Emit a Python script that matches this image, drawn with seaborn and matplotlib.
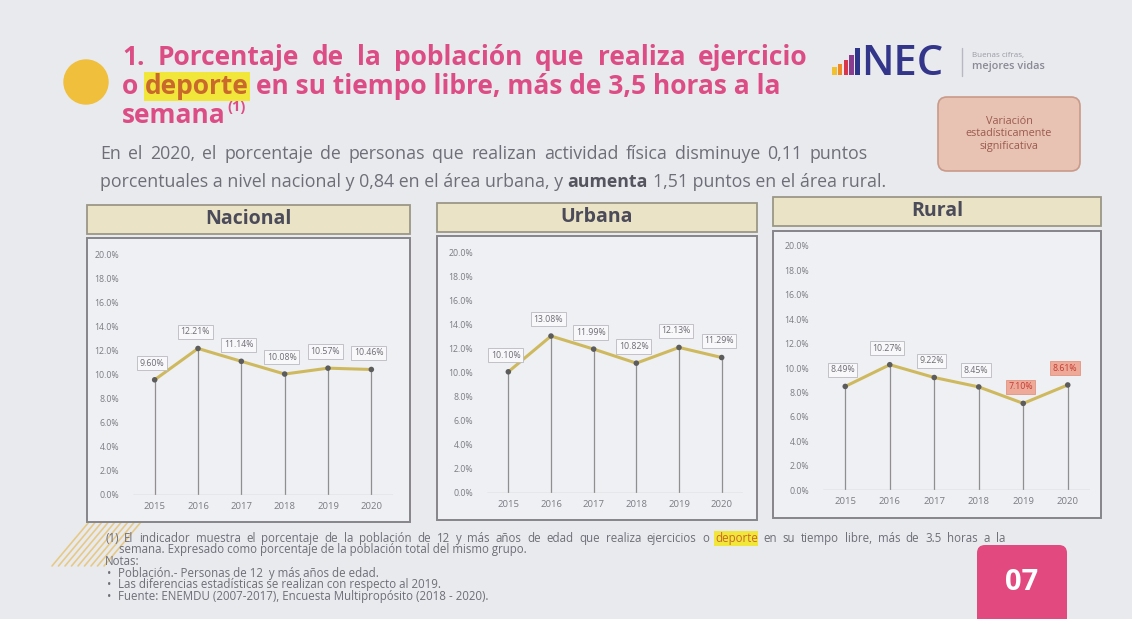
import matplotlib
matplotlib.use("Agg")
import matplotlib.pyplot as plt
import seaborn as sns
import pandas as pd
from matplotlib.patches import Rectangle, FancyBboxPatch, Circle
from matplotlib.transforms import IdentityTransform
from matplotlib.lines import Line2D
from matplotlib.ticker import FuncFormatter

# ---------------- data ----------------
years = [2015, 2016, 2017, 2018, 2019, 2020]
nacional = [9.60, 12.21, 11.14, 10.08, 10.57, 10.46]
urbana = [10.10, 13.08, 11.99, 10.82, 12.13, 11.29]
rural = [8.49, 10.27, 9.22, 8.45, 7.10, 8.61]
area_names = ["Nacional", "Urbana", "Rural"]
significant_years = {"Nacional": [], "Urbana": [], "Rural": [2019, 2020]}
y_ticks = [0, 2, 4, 6, 8, 10, 12, 14, 16, 18, 20]

# ---------------- styling ----------------
W, H = 1132, 619
BG = "#e9eaee"
PINK = "#dc4d86"
TXT = "#6e6e78"
HDR_FC = "#ebe3c6"
HDR_EC = "#9b9686"
BOX_FC = "#eef0f4"
BOX_EC = "#85858a"
LINE_C = "#cfb95f"
MARK_C = "#5c5c5c"
DROP_C = "#8f8f8f"

sns.set_theme(style="white")
plt.rcParams["font.family"] = ["Open Sans", "DejaVu Sans"]

fig = plt.figure(figsize=(W / 100, H / 100), dpi=100)
fig.patch.set_facecolor(BG)
ID = IdentityTransform()
renderer = fig.canvas.get_renderer()


def space_width(size, weight):
    a = fig.text(0, 0, "x x", fontsize=size, weight=weight, transform=ID)
    b = fig.text(0, 0, "xx", fontsize=size, weight=weight, transform=ID)
    w = a.get_window_extent(renderer).width - b.get_window_extent(renderer).width
    a.remove()
    b.remove()
    return w


def text_line(x, y, segments, size, color, weight="normal", width=None):
    """Lay out text left to right from pixel x, baseline y (measured from top).
    With a width the words are spread to fill it; otherwise each segment is
    drawn as one piece. Returns the right edge of the last piece."""
    pieces = []
    for seg in segments:
        if isinstance(seg, str):
            seg = (seg, {})
        s, style = seg
        if width is not None:
            pieces.extend((w, style) for w in s.split())
        else:
            pieces.append((s.strip(), style))
    arts = []
    for s, style in pieces:
        kw = dict(fontsize=size, color=color, weight=weight)
        kw.update(style)
        arts.append(fig.text(0, 0, s, transform=ID, ha="left", va="baseline", **kw))
    widths = [a.get_window_extent(renderer).width for a in arts]
    gap = space_width(size, weight)
    if width is not None and len(arts) > 1:
        gap = (width - sum(widths)) / (len(arts) - 1)
    cx = x
    for a, w in zip(arts, widths):
        a.set_position((cx, H - y))
        cx += w + gap
    return cx - gap


def rect(x0, y0, x1, y1, **kw):
    r = Rectangle((x0, H - y1), x1 - x0, y1 - y0, transform=ID, **kw)
    fig.add_artist(r)
    return r


# ---------------- title block ----------------
fig.add_artist(Circle((86, H - 82), 22, transform=ID, color="#f0bf3c", zorder=1))

hl_title = {"bbox": dict(boxstyle="square,pad=0.03", fc="#f1e63a", ec="none"),
            "color": "#c9692c"}
TS = 19
text_line(122, 65, ["1. Porcentaje de la población que realiza ejercicio"], TS, PINK, "bold",
          width=686)
text_line(122, 94, ["o", ("deporte", hl_title), "en su tiempo libre, más de 3,5 horas a la"],
          TS, PINK, "bold")
end = text_line(122, 123, ["semana"], TS, PINK, "bold")
fig.text(end + 1.5, H - 111, "(1)", transform=ID, fontsize=10.5, color=PINK, weight="bold",
         ha="left", va="baseline")

SS = 12.8
text_line(100, 159, ["En el 2020, el porcentaje de personas que realizan actividad física "
                     "disminuye 0,11 puntos"], SS, TXT, width=768)
text_line(100, 187, ["porcentuales a nivel nacional y 0,84 en el área urbana, y",
                     ("aumenta", {"weight": "bold", "color": "#55555f"}),
                     "1,51 puntos en el área rural."], SS, TXT)

# INEC logo
bar_cols = ["#f2c12e", "#ef8a25", "#d8364b", "#8a3c8e", "#2f358a"]
bar_h = [8, 11, 15, 20, 27]
for i, (c, h) in enumerate(zip(bar_cols, bar_h)):
    rect(832 + i * 5.8, 75 - h, 836.5 + i * 5.8, 75, fc=c, ec="none", zorder=2)
fig.text(861, H - 75, "NEC", transform=ID, fontsize=30, color="#33358a",
         ha="left", va="baseline", weight="semibold")
fig.add_artist(Line2D([962, 962], [H - 48, H - 76], transform=ID, color="#b8b8c2", lw=1))
fig.text(972, H - 57, "Buenas cifras,", transform=ID, fontsize=5.8, color="#9a9aa5",
         ha="left", va="baseline")
fig.text(972, H - 69, "mejores vidas", transform=ID, fontsize=7.8, color="#8a8a96",
         ha="left", va="baseline", weight="semibold")

# significance legend box
fig.add_artist(FancyBboxPatch((938, H - 171), 142, 74, transform=ID,
                              boxstyle="round,pad=0,rounding_size=9",
                              fc="#e8c3b3", ec="#c99a8a", lw=1.2, zorder=1))
fig.text(1009, H - 134, "Variación\nestadísticamente\nsignificativa", transform=ID,
         fontsize=7.8, color="#9c5a50", ha="center", va="center", linespacing=1.2)

# ---------------- panels ----------------
series = {"Nacional": nacional, "Urbana": urbana, "Rural": rural}
layout = {
    "Nacional": dict(hdr=(87, 205, 410, 234), box=(87, 238, 410, 522), area=(133, 255, 393, 495)),
    "Urbana": dict(hdr=(437, 203, 757, 232), box=(437, 236, 757, 520), area=(487, 253, 743, 493)),
    "Rural": dict(hdr=(773, 197, 1101, 226), box=(773, 231, 1101, 518), area=(823, 246, 1090, 490)),
}

for name in area_names:
    lay = layout[name]
    hx0, hy0, hx1, hy1 = lay["hdr"]
    rect(hx0, hy0, hx1, hy1, fc=HDR_FC, ec=HDR_EC, lw=1.3, zorder=-1)
    fig.text((hx0 + hx1) / 2, H - (hy0 + hy1) / 2, name, transform=ID, ha="center",
             va="center", fontsize=14, weight="bold", color="#4b4b5a")
    bx0, by0, bx1, by1 = lay["box"]
    rect(bx0, by0, bx1, by1, fc=BOX_FC, ec=BOX_EC, lw=1.4, zorder=-1)

    ax0, ay0, ax1, ay1 = lay["area"]
    ax = fig.add_axes([ax0 / W, 1 - ay1 / H, (ax1 - ax0) / W, (ay1 - ay0) / H])
    ax.set_facecolor("none")

    df = pd.DataFrame({"year": years, "pct": series[name]})
    ax.vlines(df["year"], 0, df["pct"], color=DROP_C, lw=0.9, zorder=1)
    ax.axhline(0, color="#c4c4c8", lw=1.0, zorder=1)
    sns.lineplot(data=df, x="year", y="pct", ax=ax, color=LINE_C, lw=2.2, zorder=2)
    sns.scatterplot(data=df, x="year", y="pct", ax=ax, color=MARK_C, s=16,
                    edgecolor="none", zorder=3)

    ax.set_xlim(2014.5, 2020.5)
    ax.set_ylim(0, 20)
    ax.set_yticks(y_ticks)
    ax.yaxis.set_major_formatter(FuncFormatter(lambda v, p: f"{v:.1f}%"))
    ax.set_xticks(years)
    ax.tick_params(axis="y", length=0, pad=10, labelsize=6.3, labelcolor="#7c7c84")
    ax.tick_params(axis="x", length=0, pad=5, labelsize=6.8, labelcolor="#7c7c84")
    ax.set_xlabel("")
    ax.set_ylabel("")
    for sp in ax.spines.values():
        sp.set_visible(False)

    for yr, v in zip(df["year"], df["pct"]):
        sig = yr in significant_years[name]
        box = dict(boxstyle="square,pad=0.3",
                   fc="#eeaa98" if sig else "#f8f8fa",
                   ec="#e39582" if sig else "#b9b9c0", lw=0.6)
        ax.annotate(f"{v:.2f}%", (yr, v), xytext=(-2, 12), textcoords="offset points",
                    ha="center", va="center", fontsize=6.3,
                    color="#c33a33" if sig else "#6c6c74", bbox=box, zorder=5)

# ---------------- footnotes ----------------
for i in range(9):
    x0 = 52 + i * 6.5
    fig.add_artist(Line2D([x0, x0 + 42], [H - 566, H - 516], transform=ID,
                          color="#e7c474", lw=1.2, alpha=0.85, zorder=-2))
FS = 8.3
hl_note = {"bbox": dict(boxstyle="square,pad=0.05", fc="#f1e63a", ec="none"),
           "color": "#c9692c"}
text_line(105, 542, ["(1) El indicador muestra el porcentaje de la población de 12 y más años "
                     "de edad que realiza ejercicios o", ("deporte", hl_note),
                     "en su tiempo libre, más de 3.5 horas a la"], FS, TXT, width=900)
text_line(119, 553.5, ["semana. Expresado como porcentaje de la población total del mismo grupo."],
          FS, TXT)
text_line(105, 565, ["Notas:"], FS, TXT)
notes = ["Población.- Personas de 12  y más años de edad.",
         "Las diferencias estadísticas se realizan con respecto al 2019.",
         "Fuente: ENEMDU (2007-2017), Encuesta Multipropósito (2018 - 2020)."]
for k, n in enumerate(notes):
    yb = 577 + k * 11.3
    fig.text(107, H - yb, "•", transform=ID, fontsize=FS, color=TXT, ha="left", va="baseline")
    text_line(118, yb, [n], FS, TXT)

# page number tab
fig.add_artist(FancyBboxPatch((977, H - 632), 90, 87, transform=ID,
                              boxstyle="round,pad=0,rounding_size=8",
                              fc="#e2497f", ec="none", zorder=1))
fig.text(1022, H - 582, "07", transform=ID, fontsize=21, weight="bold", color="white",
         ha="center", va="center")

fig.savefig("out.png", dpi=100, facecolor=BG)
